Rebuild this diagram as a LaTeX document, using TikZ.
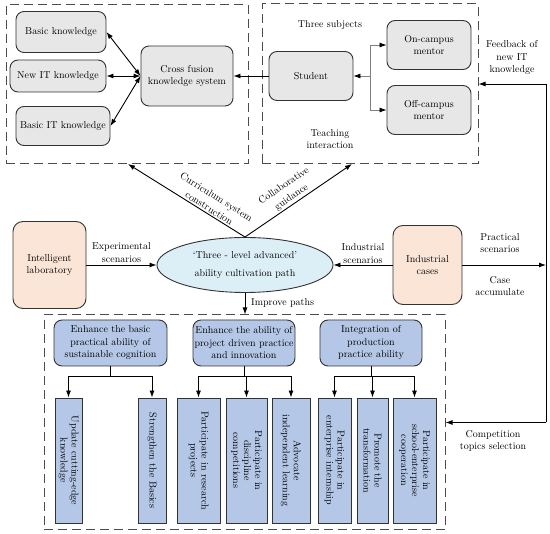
\documentclass[tikz,border=0pt]{standalone}
\usepackage{xcolor}
\usepackage{tikz}
\usetikzlibrary{arrows.meta,shapes.geometric}

\definecolor{boxgray}{HTML}{E7E7E7}
\definecolor{boxorange}{HTML}{FBE5D6}
\definecolor{boxblue}{HTML}{B4C7E7}
\definecolor{ellblue}{HTML}{DDEFF6}
\definecolor{linegray}{HTML}{333333}

\tikzset{
  >={Latex[length=7pt,width=5pt]},
  base/.style={font=\fontsize{10}{12.5}\selectfont, align=center, inner sep=1pt},
  graybox/.style={base, draw=linegray, line width=0.9pt, fill=boxgray, rounded corners=8pt},
  orangebox/.style={base, draw=linegray, line width=0.9pt, fill=boxorange, rounded corners=10pt},
  headbox/.style={base, draw=linegray, line width=0.9pt, fill=boxblue, rounded corners=8pt,
    minimum height=46pt},
  vertbox/.style={base, draw=linegray, line width=0.9pt, fill=boxblue, rotate=-90,
    minimum width=125pt, font=\fontsize{10}{11}\selectfont},
  groupbox/.style={draw=black!70, line width=1pt, dash pattern=on 9pt off 5pt},
  lbl/.style={base},
  slopelbl/.style={base, font=\fontsize{10}{13.5}\selectfont, sloped, above, inner sep=1.5pt},
  conn/.style={->, line width=0.9pt},
  mentorline/.style={->, gray, line width=0.7pt, >={Latex[length=7pt,width=5pt,color=black]}},
}

\begin{document}
\begin{tikzpicture}[x=1pt, y=-1pt]
        \useasboundingbox (0,0) rectangle (550,534);

        % Dashed group frames
        \node[groupbox, minimum width=242pt, minimum height=159pt, inner sep=0pt] (topL) at (127,84.5) {};
        \node[groupbox, minimum width=216pt, minimum height=160pt, inner sep=0pt] (topR) at (370,84) {};
        \node[groupbox, minimum width=401pt, minimum height=215pt, inner sep=0pt] (botB) at (244.5,422.5) {};

        % Knowledge boxes
        \node[graybox, minimum width=90pt, minimum height=41pt] (basic)   at (61,32)  {Basic knowledge};
        \node[graybox, minimum width=96pt, minimum height=32pt] (newit)   at (58,76)  {New IT knowledge};
        \node[graybox, minimum width=94pt, minimum height=39pt] (basicit) at (63,126) {Basic IT knowledge};
        \node[graybox, minimum width=92pt, minimum height=60pt] (cross)   at (187,76) {Cross fusion\\knowledge system};

        % Three subjects
        \node[graybox, minimum width=84pt, minimum height=49pt] (student) at (311,76)  {Student};
        \node[graybox, minimum width=84pt, minimum height=49pt] (oncamp)  at (429,45)  {On-campus\\mentor};
        \node[graybox, minimum width=84pt, minimum height=49pt] (offcamp) at (429,110) {Off-campus\\mentor};
        \node[lbl] (subj)  at (330,25)  {Three subjects};
        \node[lbl] (teach) at (330,139) {Teaching\\interaction};

        % Middle row
        \node[orangebox, minimum width=73pt, minimum height=87pt] (lab)   at (49.5,265) {Intelligent\\laboratory};
        \node[orangebox, minimum width=69pt, minimum height=79pt] (indus) at (427.5,265) {Industrial\\cases};
        \node[ellipse, draw=linegray, line width=0.9pt, fill=ellblue, minimum width=176pt, minimum height=55pt,
              base, inner sep=0pt] (ell) at (245,265) {`Three - level advanced'\\[5pt]ability cultivation path};

        % Improve paths: headers
        \node[headbox, minimum width=113pt] (h1) at (110.5,343) {Enhance the basic\\practical ability of\\sustainable cognition};
        \node[headbox, minimum width=102pt] (h2) at (244,343)   {Enhance the ability of\\project driven practice\\and innovation};
        \node[headbox, minimum width=102pt] (h3) at (371,343)   {Integration of\\production\\practice ability};

        % Improve paths: measures
        \node[vertbox, minimum height=27pt] (v1) at (68.5,460.5)  {Update cutting-edge\\knowledge};
        \node[vertbox, minimum height=28pt] (v2) at (152,460.5)   {Strengthen the Basics};
        \node[vertbox, minimum height=43pt] (v3) at (198.5,460.5) {Participate in research\\projects};
        \node[vertbox, minimum height=41pt] (v4) at (246.5,460.5) {Participate in\\discipline\\competitions};
        \node[vertbox, minimum height=38pt] (v5) at (291,460.5)   {Advocate\\independent learning};
        \node[vertbox, minimum height=33pt] (v6) at (334.5,460.5) {Participate in\\enterprise internship};
        \node[vertbox, minimum height=31pt] (v7) at (372.5,460.5) {Promote the\\transformation};
        \node[vertbox, minimum height=43pt] (v8) at (414.5,460.5) {Participate in\\school-enterprise\\cooperation};

        % Free ends on the frames
        \coordinate (curT) at (128,164);
        \coordinate (colT) at (352,164);
        \coordinate (mj)   at (370,76);
        \coordinate (rx)   at (546,0);

        % Knowledge links
        \draw[<->, line width=0.9pt] (basic.east)   -- (cross.west);
        \draw[<->, line width=0.9pt] (newit.east)   -- (cross.west);
        \draw[<->, line width=0.9pt] (basicit.east) -- (cross.west);
        \draw[conn] (student.west) -- (cross.east);

        % Mentors to student
        \draw[mentorline] (mj) |- (oncamp.west);
        \draw[mentorline] (mj) |- (offcamp.west);
        \draw[mentorline] (mj) -- (student.east);

        % Ellipse links
        \draw[conn] (ell.north) -- (curT)
              node[slopelbl, pos=0.33] {Curriculum system\\construction};
        \draw[conn] (ell.north) -- (colT)
              node[slopelbl, pos=0.47] {Collaborative\\guidance};
        \draw[conn] (lab.east) -- (ell.west)
              node[lbl, midway, above, inner sep=2pt] {Experimental\\scenarios};
        \draw[conn] (indus.west) -- (ell.east)
              node[lbl, midway, above, inner sep=1pt] {Industrial\\scenarios};
        \draw[conn] (ell.south) -- (ell.south |- botB.north);
        \node[lbl, anchor=west] (impr) at (250,303) {Improve paths};

        % Right feedback loop
        \draw[conn] (indus.east) -- (indus.east -| rx);
        \draw[conn] (botB.east -| rx) -- (topR.east -| rx) -- (topR.east);
        \draw[conn] (botB.east -| rx) -- (botB.east);
        \node[lbl] (fb)   at (512,58)  {Feedback of\\new IT\\knowledge};
        \node[lbl] (prac) at (500,243) {Practical\\scenarios};
        \node[lbl] (acc)  at (500,286) {Case\\accumulate};
        \node[lbl] (comp) at (493,441) {Competition\\topics selection};

        % Branches to measures
        \draw[conn] (h1.south) -- ++(0,10) -| (v1.west);
        \draw[conn] (h1.south) -- ++(0,10) -| (v2.west);
        \draw[conn] (h2.south) -- ++(0,10) -| (v3.west);
        \draw[conn] (h2.south) -- ++(0,10) -| (v4.west);
        \draw[conn] (h2.south) -- ++(0,10) -| (v5.west);
        \draw[conn] (h3.south) -- ++(0,10) -| (v6.west);
        \draw[conn] (h3.south) -- ++(0,10) -| (v7.west);
        \draw[conn] (h3.south) -- ++(0,10) -| (v8.west);
    \end{tikzpicture}
\end{document}
